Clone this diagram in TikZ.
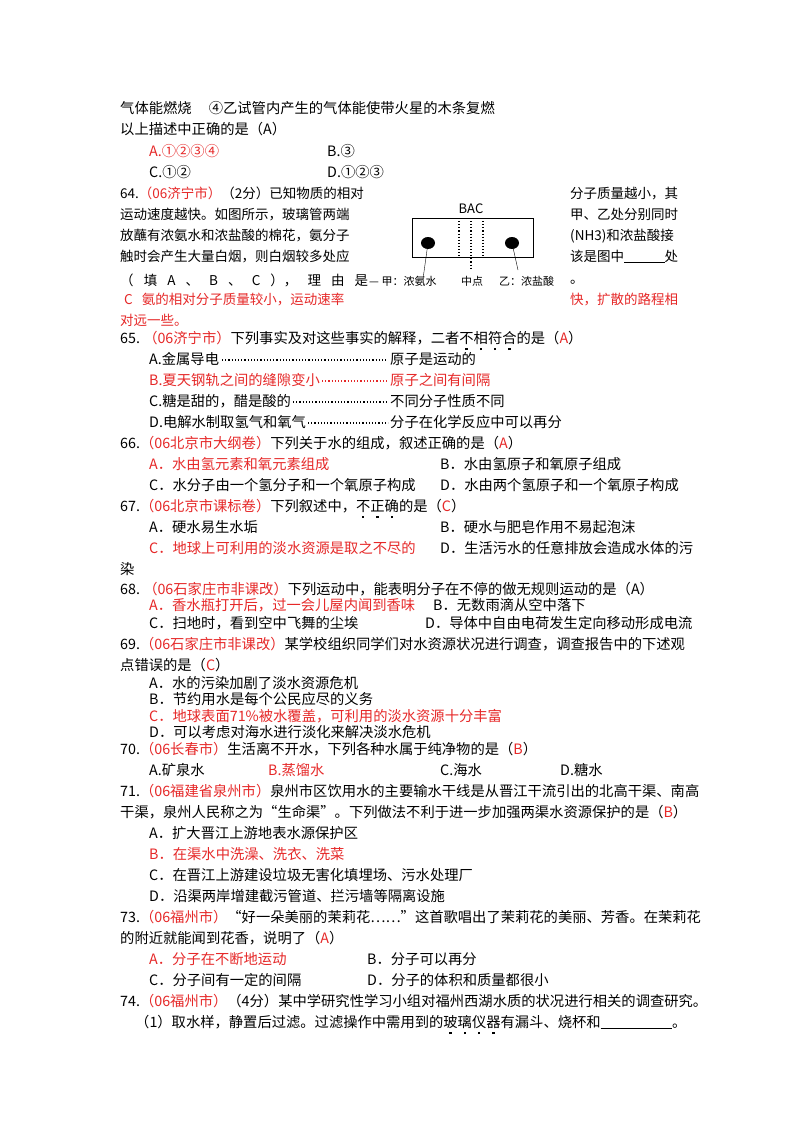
\documentclass[tikz,border=0pt]{standalone}
\usepackage{fontspec}
\setmainfont{Noto Sans CJK SC}
\newcommand\T[3]{\node[anchor=base west,inner sep=0pt] at (#1,#2) {#3};}
\newcommand\R[3]{\node[anchor=base west,inner sep=0pt,text=red] at (#1,#2) {#3};}
\newcommand\ud[1]{\leavevmode\rlap{\hbox to 1em{\hss\raisebox{-0.5em}{\rule{2.4pt}{2.4pt}}\hss}}#1}
\definecolor{red}{RGB}{230,40,40}
\begin{document}
\begin{tikzpicture}[x=1pt,y=-1pt,font=\fontsize{14.3}{15}\selectfont]
\useasboundingbox[fill=white] (0,0) rectangle (800,1132);
\T{120}{113}{气体能燃烧\hspace{1.2em}④乙试管内产生的气体能使带火星的木条复燃}
\T{120}{134}{以上描述中正确的是（A）}
\R{149}{156}{A.①②③④}\T{327}{156}{B.③}
\T{149}{177}{C.①②}\T{327}{177}{D.①②③}
% 64
\begin{scope}[font=\fontsize{13.5}{14}\selectfont]
\node[anchor=base west,inner sep=0pt] at (120,198) {64.\textcolor{red}{（06济宁市）}（2分）已知物质的相对};
\T{120}{219}{运动速度越快。如图所示，玻璃管两端}
\T{120}{240}{放蘸有浓氨水和浓盐酸的棉花，氨分子}
\T{120}{261}{触时会产生大量白烟，则白烟较多处应}
\T{120}{285}{\makebox[248pt][s]{（ 填 A 、 B 、 C ）， 理 由 是}}
\T{570}{198}{分子质量越小，其}
\T{570}{219}{甲、乙处分别同时}
\T{570}{240}{(NH3)和浓盐酸接}
\T{570}{261}{该是图中\underline{\hspace{3em}}处}
\T{570}{283}{。}
\R{124}{304}{C\ \ \ 氨的相对分子质量较小，运动速率}
\R{570}{304}{快，扩散的路程相}
\R{120}{325}{对远一些。}
\end{scope}
% figure
\draw[line width=0.9pt] (412,218) rectangle (533,257);
\foreach \xx in {459,483} \draw[dotted,line width=1.1pt] (\xx,218) -- (\xx,257);
\draw[dotted,line width=1.1pt] (471,218) -- (471,270);
\fill (428,243) ellipse (7 and 6); \fill (512,243) ellipse (7 and 6);
\draw (428,243) -- (423,279); \draw (512,243) -- (518,270);
\node[font=\fontsize{13}{13}\selectfont\rmfamily] at (471,209) {BAC};
\node[anchor=base west,inner sep=0pt,font=\fontsize{11}{11}\selectfont] at (369,285) {— 甲：浓氨水};
\node[anchor=base west,inner sep=0pt,font=\fontsize{11}{11}\selectfont] at (461,285) {中点};
\node[anchor=base west,inner sep=0pt,font=\fontsize{11}{11}\selectfont] at (499,285) {乙：浓盐酸};
% 65
\node[anchor=base west,inner sep=0pt] at (120,343) {65.\ \textcolor{red}{（06济宁市）}下列事实及对这些事实的解释，二者\ud{不}\ud{相}\ud{符}\ud{合}的是（\textcolor{red}{A}）};
\T{149}{364}{A.金属导电}\draw[dotted,line width=1.2pt] (222,360) -- (388,360);\T{390}{364}{原子是运动的}
\R{149}{385}{B.夏天钢轨之间的缝隙变小}\draw[red,dotted,line width=1.2pt] (322,381) -- (388,381);\R{390}{385}{原子之间有间隔}
\T{149}{406}{C.糖是甜的，醋是酸的}\draw[dotted,line width=1.2pt] (293,402) -- (388,402);\T{390}{406}{不同分子性质不同}
\T{149}{427}{D.电解水制取氢气和氧气}\draw[dotted,line width=1.2pt] (308,423) -- (388,423);\T{390}{427}{分子在化学反应中可以再分}
% 66
\node[anchor=base west,inner sep=0pt] at (120,448) {66.\textcolor{red}{（06北京市大纲卷）}下列关于水的组成，叙述正确的是（\textcolor{red}{A}）};
\R{149}{469}{A．水由氢元素和氧元素组成}\T{440}{469}{B．水由氢原子和氧原子组成}
\T{149}{490}{C．水分子由一个氢分子和一个氧原子构成}\T{440}{490}{D．水由两个氢原子和一个氧原子构成}
% 67
\node[anchor=base west,inner sep=0pt] at (120,511) {67.\textcolor{red}{（06北京市课标卷）}下列叙述中，\ud{不}\ud{正}\ud{确}的是（\textcolor{red}{C}）};
\T{149}{532}{A．硬水易生水垢}\T{440}{532}{B．硬水与肥皂作用不易起泡沫}
\R{149}{553}{C．地球上可利用的淡水资源是取之不尽的}\T{440}{553}{D．生活污水的任意排放会造成水体的污}
\T{120}{574}{染}
% 68
\node[anchor=base west,inner sep=0pt] at (120,594) {68.\ \textcolor{red}{（06石家庄市非课改）}下列运动中，能表明分子在不停的做无规则运动的是（A）};
\R{149}{610}{A．香水瓶打开后，过一会儿屋内闻到香味}\T{433}{610}{B．无数雨滴从空中落下}
\T{149}{628}{C．扫地时，看到空中飞舞的尘埃}\T{425}{628}{D．导体中自由电荷发生定向移动形成电流}
% 69
\node[anchor=base west,inner sep=0pt] at (120,649) {69.\textcolor{red}{（06石家庄市非课改）}某学校组织同学们对水资源状况进行调查，调查报告中的下述观};
\node[anchor=base west,inner sep=0pt] at (120,670) {点错误的是（\textcolor{red}{C}）};
\T{149}{688}{A．水的污染加剧了淡水资源危机}
\T{149}{704}{B．节约用水是每个公民应尽的义务}
\R{149}{721}{C．地球表面71\%被水覆盖，可利用的淡水资源十分丰富}
\T{149}{737}{D．可以考虑对海水进行淡化来解决淡水危机}
% 70
\node[anchor=base west,inner sep=0pt] at (120,754) {70.\textcolor{red}{（06长春市）}生活离不开水，下列各种水属于纯净物的是（\textcolor{red}{B}）};
\T{149}{775}{A.矿泉水}\R{268}{775}{B.蒸馏水}\T{440}{775}{C.海水}\T{560}{775}{D.糖水}
% 71
\node[anchor=base west,inner sep=0pt] at (120,796) {71.\textcolor{red}{（06福建省泉州市）}泉州市区饮用水的主要输水干线是从晋江干流引出的北高干渠、南高};
\node[anchor=base west,inner sep=0pt] at (120,817) {\makebox[560pt][s]{干渠，泉州人民称之为“生命渠”。下列做法不利于进一步加强两渠水资源保护的是（\textcolor{red}{B}）}};
\T{149}{838}{A．扩大晋江上游地表水源保护区}
\R{149}{859}{B．在渠水中洗澡、洗衣、洗菜}
\T{149}{880}{C．在晋江上游建设垃圾无害化填埋场、污水处理厂}
\T{149}{901}{D．沿渠两岸增建截污管道、拦污墙等隔离设施}
% 73
\node[anchor=base west,inner sep=0pt] at (120,922) {73.\textcolor{red}{（06福州市）}“好一朵美丽的茉莉花……”这首歌唱出了茉莉花的美丽、芳香。在茉莉花};
\node[anchor=base west,inner sep=0pt] at (120,943) {的附近就能闻到花香，说明了（\textcolor{red}{A}）};
\R{149}{964}{A．分子在不断地运动}\T{367}{964}{B．分子可以再分}
\T{149}{985}{C．分子间有一定的间隔}\T{367}{985}{D．分子的体积和质量都很小}
% 74
\node[anchor=base west,inner sep=0pt] at (120,1006) {74.\textcolor{red}{（06福州市）}（4分）某中学研究性学习小组对福州西湖水质的状况进行相关的调查研究。};
\T{135}{1027}{（1）取水样，静置后过滤。过滤操作中需用到的\ud{玻}\ud{璃}\ud{仪}\ud{器}有漏斗、烧杯和\underline{\hspace{5em}}。}
\end{tikzpicture}
\end{document}
